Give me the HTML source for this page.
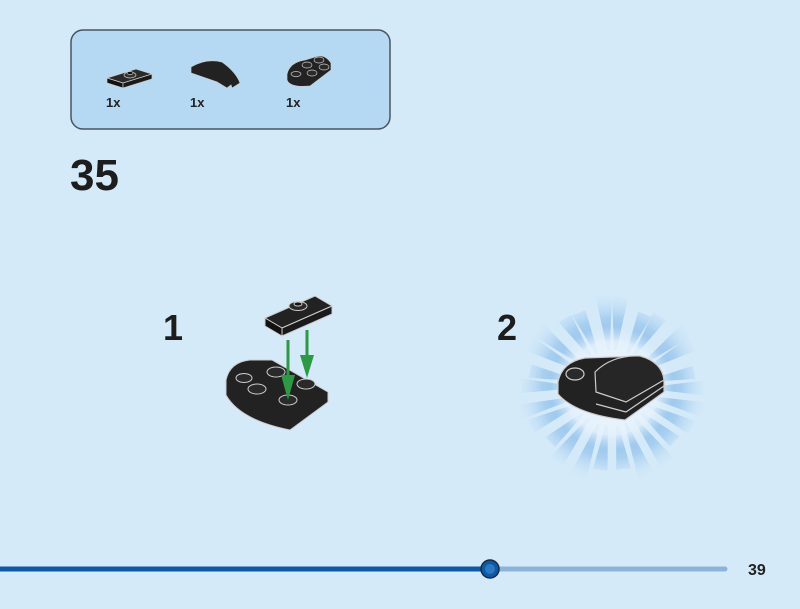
<!DOCTYPE html>
<html><head><style>
html,body{margin:0;padding:0}
body{width:800px;height:604px;background:#d5eaf9;overflow:hidden;font-family:"Liberation Sans",sans-serif}
</style></head><body>
<svg id="s" width="800" height="604" viewBox="0 0 800 604" xmlns="http://www.w3.org/2000/svg">
<defs>
<radialGradient id="ray" gradientUnits="userSpaceOnUse" cx="612" cy="388" r="100">
<stop offset="0.35" stop-color="#7fb6e6" stop-opacity="1"/>
<stop offset="0.7" stop-color="#9cc8ee" stop-opacity="0.8"/>
<stop offset="1" stop-color="#d5eaf9" stop-opacity="0"/>
</radialGradient>
<radialGradient id="glow" gradientUnits="userSpaceOnUse" cx="612" cy="388" r="62">
<stop offset="0" stop-color="#eef7fd" stop-opacity="1"/>
<stop offset="0.75" stop-color="#e6f2fc" stop-opacity="0.9"/>
<stop offset="1" stop-color="#d5eaf9" stop-opacity="0"/>
</radialGradient>
</defs>
<rect x="71" y="30" width="319" height="99" rx="12" fill="#b5d8f3" stroke="#4a5560" stroke-width="1.5"/>
<g stroke="#ccc" stroke-width="0.7">
<polygon points="107,78 136,69 152,74 123,83" fill="#2a2a2a"/>
<polygon points="107,78 123,83 123,88 107,83" fill="#111"/>
<polygon points="123,83 152,74 152,79 123,88" fill="#1a1a1a"/>
<ellipse cx="130" cy="75" rx="6" ry="3" fill="#333"/>
<ellipse cx="130" cy="73" rx="3" ry="1.5" fill="#111"/>
<path d="M191,67 Q206,58 222,62 Q236,72 240,83 L232,88 L231,85 L227,88 L217,82 L191,73 Z" fill="#222"/>
<path d="M287,74 Q290,62 305,60 L318,56 Q326,55 331,63 L331,70 L310,86 Q290,88 287,80 Z" fill="#222"/>
<ellipse cx="296" cy="74" rx="5" ry="2.5" fill="#2a2a2a"/>
<ellipse cx="307" cy="65" rx="5" ry="3" fill="#2a2a2a"/>
<ellipse cx="319" cy="60" rx="5" ry="3" fill="#2a2a2a"/>
<ellipse cx="324" cy="67" rx="5" ry="3" fill="#2a2a2a"/>
<ellipse cx="312" cy="73" rx="5" ry="3" fill="#2a2a2a"/>
</g>
<g font-weight="bold" font-size="13" fill="#222">
<text x="106" y="107">1x</text><text x="190" y="107">1x</text><text x="286" y="107">1x</text>
</g>
<text x="70" y="190" font-size="44" font-weight="bold" fill="#1d1d1d">35</text>
<text x="163" y="340" font-size="36" font-weight="bold" fill="#1d1d1d">1</text>
<text x="497" y="340" font-size="36" font-weight="bold" fill="#1d1d1d">2</text>
<g stroke="#ccc" stroke-width="1">
<polygon points="265,318 315,296 332,306 282,328" fill="#222"/>
<polygon points="265,318 282,328 282,336 265,326" fill="#111"/>
<polygon points="282,328 332,306 332,314 282,336" fill="#1a1a1a"/>
<ellipse cx="298" cy="306" rx="9" ry="4.5" fill="#2a2a2a"/>
<ellipse cx="298" cy="304" rx="4" ry="2" fill="#111"/>
<path d="M226,380 Q230,362 250,360 L272,360 L328,392 L328,402 L290,430 Q240,420 226,395 Z" fill="#222"/>
<ellipse cx="244" cy="378" rx="8" ry="4.5" fill="#2a2a2a"/>
<ellipse cx="257" cy="389" rx="9" ry="5" fill="#2a2a2a"/>
<ellipse cx="276" cy="372" rx="9" ry="5" fill="#2a2a2a"/>
<ellipse cx="306" cy="384" rx="9" ry="5" fill="#2a2a2a"/>
<ellipse cx="288" cy="400" rx="9" ry="5" fill="#2a2a2a"/>
</g>
<g fill="#2a9a45" stroke="#2a9a45" stroke-width="3">
<line x1="288" y1="340" x2="288" y2="380"/><line x1="307" y1="330" x2="307" y2="360"/>
<polygon points="281,375 295,375 288,400" stroke="none"/>
<polygon points="300,355 314,355 307,378" stroke="none"/>
</g>
<g id="rays" fill="url(#ray)"></g>
<circle cx="612" cy="388" r="62" fill="url(#glow)"/>
<g stroke="#ccc" stroke-width="1.2">
<path d="M558,382 Q562,362 585,358 L640,356 Q662,362 664,380 L664,392 L625,420 Q575,414 558,394 Z" fill="#222"/>
<path d="M595,372 Q612,355 640,356 Q662,362 664,380 L626,402 L596,392 Z" fill="#262626"/>
<ellipse cx="575" cy="374" rx="9" ry="6" fill="#2a2a2a"/>
<line x1="596" y1="404" x2="626" y2="412"/>
<line x1="626" y1="412" x2="664" y2="386"/>
</g>
<line x1="0" y1="569" x2="490" y2="569" stroke="#0a5aa8" stroke-width="5"/>
<line x1="490" y1="569" x2="725" y2="569" stroke="#8db3dc" stroke-width="5" stroke-linecap="round"/>
<circle cx="490" cy="569" r="9" fill="#0a5aa8" stroke="#1a2a40" stroke-width="1.5"/>
<circle cx="490" cy="569" r="5" fill="#2a78c0"/>
<text x="748" y="575" font-size="16" font-weight="bold" fill="#222">39</text>
</svg>
<script>
(function(){
var g=document.getElementById('rays'),cx=612,cy=388,n=26,out='';
for(var i=0;i<n;i++){
var a=i*2*Math.PI/n+0.05*Math.sin(i*3.1);
var r1=40,r2=92+8*Math.sin(i*1.7);
var w1=0.03,w2=0.085;
var p=[[r1,a-w1],[r2,a-w2],[r2,a+w2],[r1,a+w1]].map(function(q){return (cx+q[0]*Math.cos(q[1])).toFixed(1)+','+(cy+q[0]*Math.sin(q[1])*0.95).toFixed(1)}).join(' ');
out+='<polygon points="'+p+'"/>';
}
g.innerHTML=out;
})();
</script>
</body></html>
